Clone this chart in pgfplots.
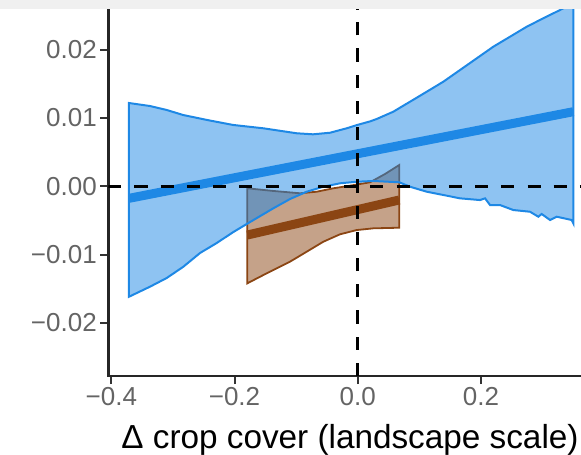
\documentclass[border=0pt]{standalone}
\usepackage{fontspec}
\setmainfont{Liberation Sans}
\usepackage{pgfplots}
\pgfplotsset{compat=1.18}
\definecolor{bblue}{HTML}{1E88E5}
\definecolor{bbrown}{HTML}{8B4513}
\definecolor{ticktext}{RGB}{100,100,100}
\definecolor{band}{RGB}{240,240,240}
\begin{document}
\begin{tikzpicture}
\path[use as bounding box] (0,0) rectangle (581pt,455pt);
\begin{axis}[
  at={(108.3pt,79pt)}, anchor=south west,
  scale only axis, width=472.7pt, height=367pt,
  xmin=-0.4049, xmax=0.3625, ymin=-0.02776, ymax=0.02595,
  axis x line*=bottom, axis y line*=left,
  axis line style={line width=2.6pt, black!85, -, line cap=rect},
  tick align=outside, major tick length=8pt,
  tick style={line width=2pt, black!80},
  xtick={-0.4,-0.2,0,0.2}, xticklabels={−0.4,−0.2,0.0,0.2},
  ytick={-0.02,-0.01,0,0.01,0.02}, yticklabels={−0.02,−0.01,0.00,0.01,0.02},
  tick label style={font=\fontsize{26}{30}\selectfont, text=ticktext},
  xlabel={Δ crop cover (landscape scale)},
  label style={font=\fontsize{33.3}{37}\selectfont},
  xlabel style={at={(axis description cs:0.5113,-0.1985)}, anchor=base},
]
% brown ribbon
\addplot[draw=bbrown, line width=1.8pt, fill=bbrown, fill opacity=0.5] coordinates {
(-0.1792,-0.00029) (-0.1370,-0.00068) (-0.0937,-0.00102) (-0.0666,-0.00079)
(-0.0396,-0.00029) (-0.0125,0.00009) (0.0200,0.00059) (0.0443,0.00180) (0.0675,0.00312)
(0.0675,-0.00606) (0.0253,-0.00615) (-0.0016,-0.00640) (-0.0287,-0.00702)
(-0.0558,-0.00811) (-0.0828,-0.00957) (-0.1099,-0.01103) (-0.1477,-0.01273) (-0.1792,-0.01420)
} -- cycle;
\addplot[bbrown, line width=9pt] coordinates {(-0.1792,-0.00713) (0.0675,-0.00200)};
% blue ribbon
\addplot[draw=bblue, line width=2pt, fill=bblue, fill opacity=0.5] coordinates {
(-0.3713,0.01219) (-0.3372,0.01175) (-0.3101,0.01117) (-0.2836,0.01044) (-0.2447,0.00971)
(-0.2024,0.00898) (-0.1532,0.00849) (-0.0990,0.00776) (-0.0726,0.00761) (-0.0450,0.00784)
(-0.0179,0.00849) (-0.0011,0.00897) (0.0200,0.00950) (0.0308,0.00985) (0.0578,0.01092)
(0.0849,0.01238) (0.1120,0.01384) (0.1390,0.01531) (0.1661,0.01702) (0.1932,0.01873)
(0.2201,0.02043) (0.2472,0.02189) (0.2744,0.02336) (0.3013,0.02459) (0.3284,0.02580) (0.3500,0.02683)
(0.3500,-0.00541) (0.3474,-0.00493) (0.3231,-0.00445) (0.3122,-0.00493) (0.2987,-0.00405)
(0.2932,-0.00445) (0.2797,-0.00372) (0.2526,-0.00347) (0.2310,-0.00274) (0.2148,-0.00274)
(0.2067,-0.00176) (0.1985,-0.00201) (0.1661,-0.00176) (0.1390,-0.00127) (0.1120,-0.00079)
(0.0849,-0.00006) (0.0675,0.00059) (0.0253,0.00078) (-0.0016,0.00067) (-0.0287,0.00044)
(-0.0558,-0.00006) (-0.0828,-0.00079) (-0.1099,-0.00186) (-0.1370,-0.00322) (-0.1748,-0.00523)
(-0.2019,-0.00669) (-0.2289,-0.00830) (-0.2560,-0.00976) (-0.2831,-0.01177) (-0.3101,-0.01342)
(-0.3372,-0.01469) (-0.3713,-0.01616)
} -- cycle;
\addplot[bblue, line width=9pt] coordinates {(-0.3713,-0.00176) (0.3500,0.01092)};
% reference lines
\draw[black, line width=3.3pt, dash pattern=on 13.1pt off 13.1pt] (axis cs:-0.4049,0) -- (axis cs:0.3625,0);
\draw[black, line width=3.3pt, dash pattern=on 13.1pt off 13.1pt] (axis cs:0,-0.02776) -- (axis cs:0,0.02595);
\end{axis}
\fill[band] (0,446pt) rectangle (581pt,455pt);
\end{tikzpicture}
\end{document}
